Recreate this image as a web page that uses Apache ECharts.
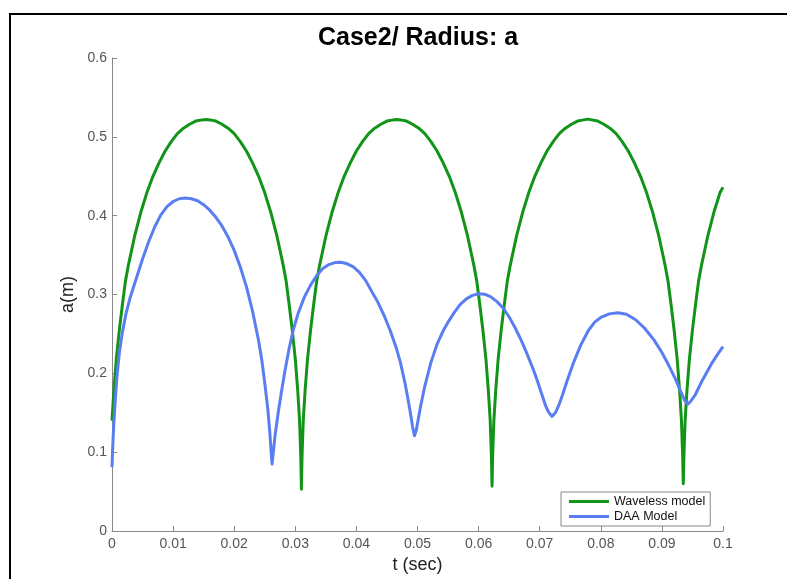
<!DOCTYPE html>
<html>
<head>
<meta charset="utf-8">
<script src="https://cdn.jsdelivr.net/npm/echarts@6/dist/echarts.min.js"></script>
<style>
html,body{margin:0;padding:0;background:#fff;}
#chart{width:787px;height:579px;}
</style>
</head>
<body>
<div id="chart"></div>
<script>
// ---- data ----
var titleText = 'Case2/ Radius: a';
var xName = 't (sec)';
var yName = 'a(m)';
var seriesNames = ['Waveless model', 'DAA Model'];

var tGreen = [
  0, 0.0003, 0.0007, 0.0012, 0.0017, 0.0022, 0.0027, 0.0037, 0.0047, 0.0057, 0.0067, 0.0077, 0.0087, 0.0097, 0.0107, 0.0117, 0.0127, 0.0137, 0.0147, 0.0155,
  0.016, 0.017, 0.018, 0.019, 0.020, 0.021, 0.022, 0.023, 0.024, 0.025, 0.026, 0.027, 0.028, 0.0285, 0.029, 0.0295, 0.030, 0.0304, 0.0307, 0.0309, 0.031,
  0.0311, 0.0313, 0.0316, 0.0320, 0.0325, 0.0330, 0.0335, 0.0340, 0.0350, 0.0360, 0.0370, 0.0380, 0.0390, 0.0400, 0.0410, 0.0420, 0.0430, 0.0440, 0.0450, 0.0460, 0.0466,
  0.0472, 0.0482, 0.0492, 0.0502, 0.0512, 0.0522, 0.0532, 0.0542, 0.0552, 0.0562, 0.0572, 0.0582, 0.0592, 0.0597, 0.0602, 0.0607, 0.0612, 0.0616, 0.0619, 0.0621, 0.0622,
  0.0623, 0.0625, 0.0628, 0.0632, 0.0637, 0.0642, 0.0647, 0.0652, 0.0662, 0.0672, 0.0682, 0.0692, 0.0702, 0.0712, 0.0722, 0.0732, 0.0742, 0.0752, 0.0762, 0.0772, 0.0779,
  0.0785, 0.0795, 0.0805, 0.0815, 0.0825, 0.0835, 0.0845, 0.0855, 0.0865, 0.0875, 0.0885, 0.0895, 0.0905, 0.0910, 0.0915, 0.0920, 0.0925, 0.0929, 0.0932, 0.0934, 0.0935,
  0.0936, 0.0938, 0.0941, 0.0945, 0.0950, 0.0955, 0.0960, 0.0965, 0.0975, 0.0985, 0.0995, 0.1
];
var aGreen = [
  0.140, 0.178, 0.218, 0.255, 0.287, 0.317, 0.338, 0.374, 0.404, 0.429, 0.450, 0.467, 0.482, 0.494, 0.504, 0.511, 0.516, 0.520, 0.5215, 0.522,
  0.5215, 0.520, 0.516, 0.511, 0.504, 0.494, 0.482, 0.467, 0.450, 0.429, 0.404, 0.374, 0.338, 0.317, 0.287, 0.255, 0.218, 0.178, 0.140, 0.095, 0.053,
  0.095, 0.140, 0.178, 0.218, 0.255, 0.287, 0.317, 0.338, 0.374, 0.404, 0.429, 0.450, 0.467, 0.482, 0.494, 0.504, 0.511, 0.516, 0.520, 0.5215, 0.522,
  0.5215, 0.520, 0.516, 0.511, 0.504, 0.494, 0.482, 0.467, 0.450, 0.429, 0.404, 0.374, 0.338, 0.317, 0.287, 0.255, 0.218, 0.178, 0.140, 0.095, 0.057,
  0.095, 0.140, 0.178, 0.218, 0.255, 0.287, 0.317, 0.338, 0.374, 0.404, 0.429, 0.450, 0.467, 0.482, 0.494, 0.504, 0.511, 0.516, 0.520, 0.5215, 0.5225,
  0.5215, 0.520, 0.516, 0.511, 0.504, 0.494, 0.482, 0.467, 0.450, 0.429, 0.404, 0.374, 0.338, 0.317, 0.287, 0.255, 0.218, 0.178, 0.140, 0.095, 0.060,
  0.095, 0.140, 0.178, 0.218, 0.255, 0.287, 0.317, 0.338, 0.374, 0.404, 0.429, 0.436
];

var tBlue = [
  0, 0.0001, 0.0002, 0.0003, 0.0005, 0.0008, 0.0012, 0.0017, 0.0023, 0.0030, 0.0040, 0.0050, 0.0060, 0.0070, 0.0080, 0.0090, 0.0100, 0.0110, 0.0120,
  0.0130, 0.0140, 0.0150, 0.0160, 0.0170, 0.0180, 0.0190, 0.0200, 0.0210, 0.0220, 0.0230, 0.0240, 0.0245, 0.0250, 0.0255, 0.0258, 0.0260, 0.0262,
  0.0264, 0.0267, 0.0272, 0.0277, 0.0283, 0.0290, 0.0297, 0.0305, 0.0315, 0.0325, 0.0335, 0.0345, 0.0355, 0.0365, 0.0375,
  0.0385, 0.0395, 0.0405, 0.0415, 0.0425, 0.0435, 0.0445, 0.0455, 0.0465, 0.0472, 0.0480, 0.0485, 0.0489, 0.0492, 0.0495,
  0.0498, 0.0501, 0.0505, 0.0512, 0.0522, 0.0532, 0.0542, 0.0550, 0.0560, 0.0570, 0.0580, 0.0590, 0.0600,
  0.0610, 0.0620, 0.0630, 0.0640, 0.0650, 0.0660, 0.0670, 0.0680, 0.0690, 0.0696, 0.0703, 0.0709, 0.0714, 0.0720,
  0.0726, 0.0731, 0.0737, 0.0745, 0.0755, 0.0767, 0.0779, 0.0790, 0.0801, 0.0814, 0.0828,
  0.0842, 0.0857, 0.0872, 0.0887, 0.0900, 0.0912, 0.0922, 0.0930, 0.0937, 0.0942,
  0.0947, 0.0954, 0.0966, 0.0981, 0.0991, 0.1
];
var aBlue = [
  0.081, 0.103, 0.121, 0.136, 0.162, 0.195, 0.226, 0.252, 0.276, 0.297, 0.321, 0.345, 0.367, 0.386, 0.401, 0.4115, 0.418, 0.4215, 0.4225,
  0.4215, 0.419, 0.414, 0.407, 0.398, 0.387, 0.373, 0.356, 0.335, 0.310, 0.279, 0.241, 0.218, 0.188, 0.155, 0.128, 0.106, 0.085,
  0.100, 0.122, 0.150, 0.175, 0.203, 0.232, 0.256, 0.277, 0.297, 0.312, 0.324, 0.333, 0.338, 0.3405, 0.341,
  0.339, 0.335, 0.328, 0.318, 0.304, 0.2905, 0.274, 0.255, 0.233, 0.214, 0.186, 0.165, 0.147, 0.132, 0.121,
  0.128, 0.141, 0.158, 0.184, 0.214, 0.237, 0.254, 0.265, 0.277, 0.2875, 0.2945, 0.299, 0.301,
  0.3005, 0.297, 0.291, 0.283, 0.2715, 0.2575, 0.2415, 0.2235, 0.204, 0.191, 0.1745, 0.1605, 0.1515, 0.1455,
  0.1505, 0.159, 0.172, 0.191, 0.213, 0.2355, 0.2535, 0.265, 0.2715, 0.2755, 0.277,
  0.275, 0.268, 0.257, 0.2425, 0.2265, 0.209, 0.193, 0.1785, 0.166, 0.1608,
  0.1645, 0.172, 0.191, 0.212, 0.224, 0.234
];

var xTicks = [0, 0.1, 0.01];   // min, max, interval
var yTicks = [0, 0.6, 0.1];    // min, max, interval

function pairs(xs, ys) {
  var out = [];
  for (var i = 0; i < xs.length; i++) out.push([xs[i], ys[i]]);
  return out;
}

var FONT = '"Liberation Sans", Helvetica, Arial, sans-serif';
var chart = echarts.init(document.getElementById('chart'), null, {renderer: 'canvas'});
chart.setOption({
  backgroundColor: '#ffffff',
  animation: false,
  title: {
    text: titleText,
    left: 318,
    top: 26,
    padding: 0,
    textStyle: {fontFamily: FONT, fontWeight: 'bold', fontSize: 25, color: '#000'}
  },
  graphic: [{
    type: 'rect',
    shape: {x: 10, y: 14, width: 820, height: 620},
    style: {fill: null, stroke: '#000', lineWidth: 2},
    silent: true,
    z: 100
  }],
  legend: {
    orient: 'vertical',
    left: 561,
    top: 492,
    padding: [3, 5, 3, 8],
    itemGap: 2,
    itemWidth: 40,
    itemHeight: 3,
    icon: 'rect',
    borderColor: '#888',
    borderWidth: 1,
    backgroundColor: '#fff',
    textStyle: {fontFamily: FONT, fontSize: 12.5, color: '#111'},
    data: seriesNames
  },
  grid: {left: 112, right: 64, top: 58, bottom: 39, containLabel: false},
  xAxis: {
    type: 'value',
    min: xTicks[0], max: xTicks[1], interval: xTicks[2],
    name: xName,
    nameLocation: 'middle',
    nameGap: 20,
    nameTextStyle: {fontFamily: FONT, fontSize: 18, color: '#222'},
    axisLine: {lineStyle: {color: '#888', width: 1}},
    axisTick: {inside: true, length: 5, lineStyle: {color: '#888'}},
    axisLabel: {fontFamily: FONT, fontSize: 14, color: '#555', margin: 6},
    splitLine: {show: false}
  },
  yAxis: {
    type: 'value',
    min: yTicks[0], max: yTicks[1], interval: yTicks[2],
    name: yName,
    nameLocation: 'middle',
    nameGap: 28,
    nameTextStyle: {fontFamily: FONT, fontSize: 18, color: '#222'},
    axisLine: {show: true, lineStyle: {color: '#888', width: 1}},
    axisTick: {show: true, inside: true, length: 5, lineStyle: {color: '#888'}},
    axisLabel: {fontFamily: FONT, fontSize: 14, color: '#555', margin: 5},
    splitLine: {show: false}
  },
  series: [
    {
      name: seriesNames[0],
      type: 'line',
      data: pairs(tGreen, aGreen),
      showSymbol: false,
      symbol: 'none',
      color: '#119417',
      lineStyle: {color: '#119417', width: 3, join: 'round'},
      z: 2
    },
    {
      name: seriesNames[1],
      type: 'line',
      data: pairs(tBlue, aBlue),
      showSymbol: false,
      symbol: 'none',
      color: '#5a7ef2',
      lineStyle: {color: '#5a7ef2', width: 3, join: 'round'},
      z: 3
    }
  ]
});
</script>
</body>
</html>
